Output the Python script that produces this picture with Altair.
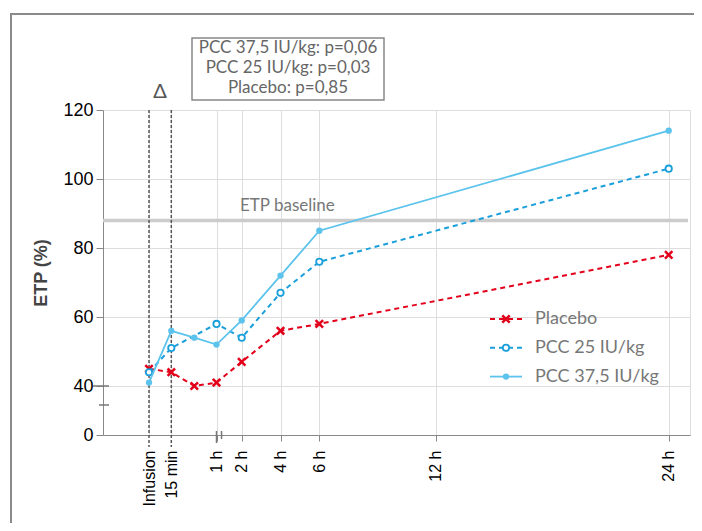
import altair as alt
import pandas as pd

# ---- data ----
times = [0, 0.25, 0.5, 1, 2, 4, 6, 24]
placebo = [45, 44, 40, 41, 47, 56, 58, 78]
pcc25 = [44, 51, None, 58, 54, 67, 76, 103]
pcc375 = [41, 56, 54, 52, 59, 72, 85, 114]
series_names = ["Placebo", "PCC 25 IU/kg", "PCC 37,5 IU/kg"]
series_colors = ["#e2001a", "#1a9fdb", "#5cc3ec"]
tick_values = [0, 0.25, 1, 2, 4, 6, 12, 24]
tick_labels = ["Infusion", "15 min", "1 h", "2 h", "4 h", "6 h", "12 h", "24 h"]
event_times = [0, 0.25]
y_ticks = [0, 40, 60, 80, 100, 120]
baseline = [88]
pvalue_lines = ["PCC 37,5 IU/kg: p=0,06", "PCC 25 IU/kg: p=0,03", "Placebo: p=0,85"]

FONT = "Lato"
GRAY = "#777777"

# ---- scales (piecewise, broken axes) ----
x_scale = alt.Scale(domain=[-2, 0, 0.25, 0.5, 1, 2, 24, 25.1],
                    range=[0, 46, 68.3, 91.3, 113.5, 138.7, 565.7, 587],
                    zero=False, nice=False)
y_scale = alt.Scale(domain=[0, 40, 120], range=[325, 276, 0], zero=False, nice=False)

label_expr = "''"
for v, l in reversed(list(zip(tick_values, tick_labels))):
    label_expr = f"datum.value == {v} ? '{l}' : ({label_expr})"

x_axis = alt.Axis(values=tick_values, labelExpr=label_expr, labelAngle=-90,
                  labelFontSize=16, labelPadding=9, tickSize=6, title=None,
                  tickOpacity={"condition": {"test": "datum.value < 1", "value": 0}, "value": 1})
y_axis = alt.Axis(values=y_ticks, labelFontSize=18, tickSize=7, labelPadding=3,
                  title="ETP (%)", titleFontSize=18, titleFontWeight="bold",
                  titleColor="#444444", titlePadding=12)

X = alt.X("t:Q", scale=x_scale, axis=x_axis)
Y = alt.Y("v:Q", scale=y_scale, axis=y_axis)


def series_df(vals):
    return pd.DataFrame({"t": times, "v": vals}).dropna()


layers = []

# frame around the figure: left and top edges only
layers.append(alt.Chart(alt.Data(values=[{}])).mark_rule(
    color="#8a8a8a", strokeWidth=2).encode(
    x=alt.value(-92), y=alt.value(-96), y2=alt.value(430)))
layers.append(alt.Chart(alt.Data(values=[{}])).mark_rule(
    color="#8a8a8a", strokeWidth=2).encode(
    x=alt.value(-93), x2=alt.value(591), y=alt.value(-96), y2=alt.value(-96)))

# baseline
base_df = pd.DataFrame({"v": baseline})
layers.append(alt.Chart(base_df).mark_rule(color="#cccccc", strokeWidth=3.5).encode(
    y=Y, x=alt.value(0), x2=alt.value(585)))
layers.append(alt.Chart(base_df).mark_text(
    text="ETP baseline", align="left", baseline="bottom", dy=-5, fontSize=17,
    font=FONT, color=GRAY).encode(y=Y, x=alt.value(137)))

# vertical event lines
ev_df = pd.DataFrame({"t": event_times, "v": [120] * len(event_times)})
layers.append(alt.Chart(ev_df).mark_rule(color="#555555", strokeWidth=1.5,
                                         strokeDash=[3, 2]).encode(
    x=X, y=Y, y2=alt.value(337)))

# axis break marks
brk_y = pd.DataFrame({"v": [40]})
layers.append(alt.Chart(brk_y).mark_rule(color=GRAY, strokeWidth=1.5).encode(
    y=Y, x=alt.value(-10), x2=alt.value(6)))
brk_y2 = pd.DataFrame({"v": [24.5]})
layers.append(alt.Chart(brk_y2).mark_rule(color=GRAY, strokeWidth=1.5).encode(
    y=Y, x=alt.value(-4), x2=alt.value(6)))
brk_x = pd.DataFrame({"t": [1]})
layers.append(alt.Chart(brk_x).mark_rule(color=GRAY, strokeWidth=1.5).encode(
    x=X, y=alt.value(321), y2=alt.value(333)))
brk_x2 = pd.DataFrame({"t": [1.2]})
layers.append(alt.Chart(brk_x2).mark_rule(color=GRAY, strokeWidth=1.5).encode(
    x=X, y=alt.value(321), y2=alt.value(329)))

# series
cross = "M-1,-1L1,1M-1,1L1,-1"
specs = [
    (placebo, series_colors[0], [5, 4], 2.0,
     dict(shape=cross, filled=False, size=55, strokeWidth=2.5)),
    (pcc25, series_colors[1], [5, 4], 2.0,
     dict(shape="circle", filled=True, fill="white", stroke=series_colors[1],
          size=40, strokeWidth=1.8)),
    (pcc375, series_colors[2], None, 1.8,
     dict(shape="circle", filled=True, size=40)),
]
for vals, col, dash, w, pt in specs:
    d = series_df(vals)
    line_kw = dict(color=col, strokeWidth=w)
    if dash:
        line_kw["strokeDash"] = dash
    layers.append(alt.Chart(d).mark_line(**line_kw).encode(x=X, y=Y))
    layers.append(alt.Chart(d).mark_point(color=col, opacity=1, **pt).encode(x=X, y=Y))

# legend
for i, (name, (vals, col, dash, w, pt)) in enumerate(zip(series_names, specs)):
    yy = 209 + i * 28.8
    one = alt.Data(values=[{}])
    lk = dict(color=col, strokeWidth=w)
    if dash:
        lk["strokeDash"] = dash
    layers.append(alt.Chart(one).mark_rule(**lk).encode(
        x=alt.value(387), x2=alt.value(419), y=alt.value(yy), y2=alt.value(yy)))
    layers.append(alt.Chart(one).mark_point(color=col, opacity=1, **pt).encode(
        x=alt.value(403), y=alt.value(yy)))
    layers.append(alt.Chart(one).mark_text(
        text=name, align="left", baseline="middle", fontSize=18, font=FONT,
        color=GRAY).encode(x=alt.value(432), y=alt.value(yy)))

# p-value box and delta
layers.append(alt.Chart(alt.Data(values=[{}])).mark_rect(
    fill="white", stroke="#888888", strokeWidth=1.5).encode(
    x=alt.value(89), x2=alt.value(281), y=alt.value(-72), y2=alt.value(-10)))
layers.append(alt.Chart(alt.Data(values=[{}])).mark_text(
    text=pvalue_lines, align="center", baseline="top", fontSize=17, lineHeight=20,
    font=FONT, color="#666666").encode(x=alt.value(185), y=alt.value(-70)))
layers.append(alt.Chart(alt.Data(values=[{}])).mark_text(
    text="Δ", align="center", baseline="middle", fontSize=20, font=FONT,
    color="#555555").encode(x=alt.value(57), y=alt.value(-18)))

chart = alt.layer(*layers).properties(
    width=587, height=325,
    autosize=alt.AutoSizeParams(type="none"),
    padding={"left": 95, "top": 102, "right": 4, "bottom": 88},
).configure_view(stroke=None).configure_axis(
    grid=False, domainColor=GRAY, domainWidth=2, tickColor=GRAY, tickWidth=1.5,
    labelColor=GRAY, labelFont=FONT, titleFont=FONT,
).configure(background="white")

chart.save("out.html", embed_options={"renderer": "svg", "actions": False})
